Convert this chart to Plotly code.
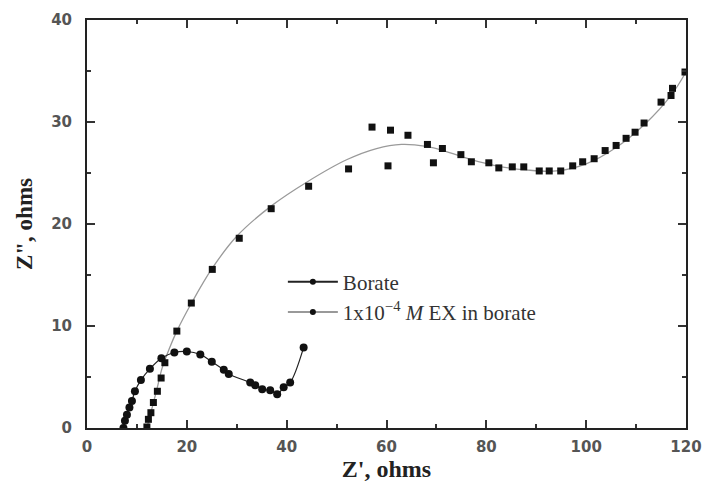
import plotly.graph_objects as go

# Borate series (Z', Z'')
borate_x = [7.3, 7.6, 8.0, 8.5, 9.0, 9.6, 10.8, 12.6, 14.9, 17.5, 20.0, 22.7, 25.0, 27.4,
            28.4, 32.7, 33.7, 35.1, 36.7, 38.1, 39.4, 40.7, 43.4]
borate_y = [0.0, 0.7, 1.3, 2.0, 2.65, 3.6, 4.7, 5.8, 6.85, 7.4, 7.5, 7.2, 6.5, 5.7,
            5.3, 4.45, 4.2, 3.8, 3.7, 3.3, 4.0, 4.45, 7.9]

# 1x10^-4 M EX in borate (data points)
ex_x = [12.0, 12.3, 12.8, 13.3, 14.1, 14.85, 15.6, 18.0, 20.9, 25.1, 30.5, 36.9, 44.4, 52.4,
        57.1, 60.3, 60.8, 64.3, 68.2, 69.4, 71.2, 74.9, 77.0, 80.5, 82.5, 85.2, 87.5, 90.6,
        92.6, 94.9, 97.3, 99.3, 101.6, 103.8, 106.0, 108.0, 109.8, 111.6, 115.0, 117.0, 117.3, 119.8]
ex_y = [0.1, 0.85, 1.5, 2.5, 3.6, 4.9, 6.4, 9.5, 12.25, 15.55, 18.6, 21.5, 23.7, 25.4,
        29.5, 25.7, 29.2, 28.7, 27.8, 26.0, 27.4, 26.8, 26.1, 26.0, 25.5, 25.6, 25.6, 25.2,
        25.2, 25.2, 25.7, 26.1, 26.4, 27.2, 27.7, 28.4, 29.0, 29.9, 31.95, 32.6, 33.3, 34.9]

# Fitted curve through the EX data
fit_x = [12, 13, 14, 15, 16.5, 18, 21, 25, 30, 37, 44, 52, 58, 63, 68, 72, 77, 82, 88, 94,
         100, 106, 112, 117, 120]
fit_y = [0, 1.9, 3.8, 5.8, 7.8, 9.5, 12.3, 15.6, 18.8, 21.8, 24.1, 26.3, 27.4, 27.8, 27.6,
         27.1, 26.3, 25.7, 25.3, 25.2, 25.9, 27.5, 29.9, 32.6, 34.9]

x_ticks = [0, 20, 40, 60, 80, 100, 120]
y_ticks = [0, 10, 20, 30, 40]

fig = go.Figure()

fig.add_trace(go.Scatter(x=fit_x, y=fit_y, mode="lines", line=dict(color="#9a9a9a", width=1.3, shape="spline"),
                         showlegend=False, hoverinfo="skip"))
fig.add_trace(go.Scatter(x=ex_x, y=ex_y, mode="markers",
                         marker=dict(symbol="square", size=7, color="#111"), showlegend=False))
fig.add_trace(go.Scatter(x=borate_x, y=borate_y, mode="lines+markers",
                         line=dict(color="#222", width=1.2, shape="spline"),
                         marker=dict(symbol="circle", size=8, color="#111"), showlegend=False))

# legend entries
fig.add_trace(go.Scatter(x=[None], y=[None], mode="lines+markers", name="Borate",
                         line=dict(color="#222", width=2), marker=dict(size=6, color="#111"),
                         legendgroup="a"))
fig.add_trace(go.Scatter(x=[None], y=[None], mode="lines+markers",
                         name="1x10<sup>\u22124</sup> <i>M</i> EX in borate",
                         line=dict(color="#999", width=2), marker=dict(size=6, color="#111"),
                         legendgroup="b"))

axis_common = dict(showline=True, linecolor="#222", linewidth=2, mirror="ticks",
                   ticks="inside", ticklen=8, tickwidth=1.5, tickcolor="#333",
                   showgrid=False, zeroline=False, automargin=False,
                   tickfont=dict(family="DejaVu Sans", size=15, color="#555", weight="bold"))

fig.update_xaxes(range=[0, 120], tickvals=x_ticks, ticktext=[str(v) for v in x_ticks],
                 minor=dict(dtick=10, ticks="inside", ticklen=4, tickcolor="#333"),
                 ticklabelstandoff=4,
                 title=dict(text="<b>Z', ohms</b>", font=dict(family="Liberation Serif", size=24, color="#222"),
                            standoff=4),
                 **axis_common)
fig.update_yaxes(range=[0, 40], tickvals=y_ticks, ticktext=[str(v) for v in y_ticks],
                 minor=dict(dtick=5, ticks="inside", ticklen=4, tickcolor="#333"),
                 ticklabelstandoff=10,
                 title=dict(text="<b>Z\", ohms</b>", font=dict(family="Liberation Serif", size=23, color="#222"),
                            standoff=12),
                 **axis_common)

fig.update_layout(
    width=704, height=482,
    margin=dict(l=87, r=18, t=20, b=54),
    paper_bgcolor="white", plot_bgcolor="white",
    legend=dict(x=0.327, y=0.408, xanchor="left", yanchor="top", itemwidth=50,
                font=dict(family="Liberation Serif", size=21, color="#333"),
                bgcolor="rgba(0,0,0,0)", tracegroupgap=0, traceorder="grouped"),
)

fig.write_html("out.html")
